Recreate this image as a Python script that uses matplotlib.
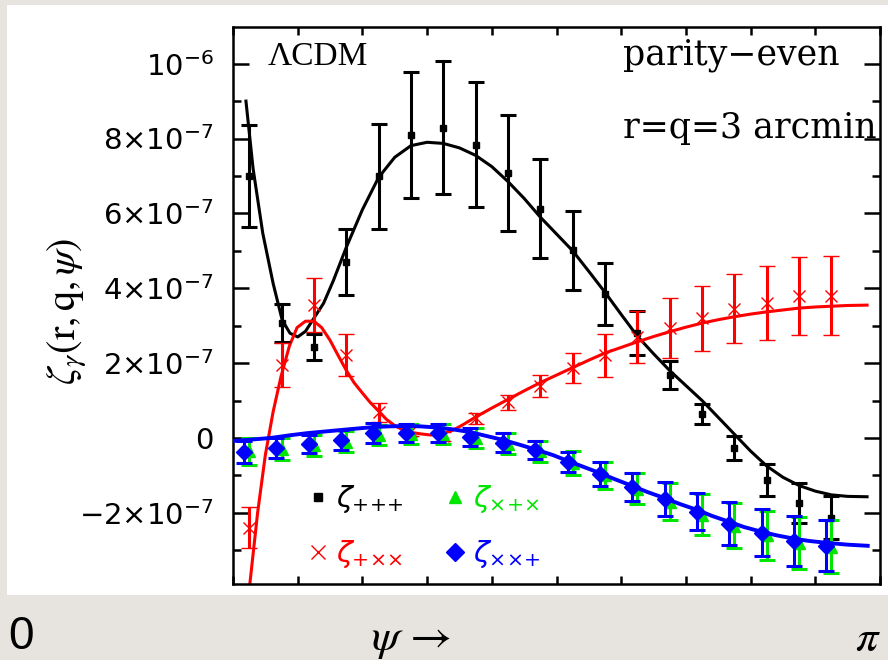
import matplotlib
matplotlib.use("Agg")
import matplotlib.pyplot as plt
from matplotlib.ticker import MultipleLocator
from matplotlib.lines import Line2D
from matplotlib.patches import Rectangle

# psi in units of pi, zeta in units of 1e-7
psi = [0.025, 0.075, 0.125, 0.175, 0.225, 0.275, 0.325, 0.375, 0.425, 0.475,
       0.525, 0.575, 0.625, 0.675, 0.725, 0.775, 0.825, 0.875, 0.925]

ppp_val = [7.0, 3.07, 2.43, 4.69, 6.99, 8.1, 8.29, 7.84, 7.09, 6.13,
           5.01, 3.84, 2.8, 1.68, 0.64, -0.27, -1.12, -1.73, -2.13]
ppp_err = [1.35, 0.5, 0.35, 0.88, 1.4, 1.68, 1.77, 1.68, 1.55, 1.33,
           1.05, 0.83, 0.58, 0.38, 0.27, 0.32, 0.43, 0.53, 0.58]

pxx_val = [-2.4, 1.95, 3.55, 2.21, 0.69, 0.2, 0.05, 0.53, 0.96, 1.38,
           1.87, 2.21, 2.7, 2.93, 3.2, 3.45, 3.6, 3.79, 3.8]
pxx_err = [0.55, 0.6, 0.72, 0.56, 0.25, 0.15, 0.12, 0.15, 0.2, 0.29,
           0.41, 0.58, 0.7, 0.8, 0.87, 0.92, 0.99, 1.04, 1.05]

xpx_val = [-0.36, -0.3, -0.2, -0.1, 0.08, 0.1, 0.1, 0.0, -0.15, -0.35,
           -0.68, -1.0, -1.35, -1.7, -2.05, -2.35, -2.6, -2.8, -2.9]
xpx_err = [0.36, 0.3, 0.27, 0.28, 0.28, 0.27, 0.27, 0.27, 0.27, 0.28,
           0.32, 0.37, 0.42, 0.5, 0.55, 0.6, 0.66, 0.7, 0.72]

xxp_psi = [0.017, 0.067, 0.117, 0.167, 0.217, 0.267, 0.317, 0.367, 0.417, 0.467,
           0.517, 0.567, 0.617, 0.667, 0.717, 0.767, 0.817, 0.867, 0.917]
xxp_val = [-0.37, -0.27, -0.16, -0.05, 0.13, 0.13, 0.13, 0.03, -0.13, -0.32,
           -0.64, -0.96, -1.31, -1.63, -1.97, -2.29, -2.53, -2.75, -2.88]
xxp_err = [0.3, 0.27, 0.25, 0.27, 0.27, 0.25, 0.25, 0.25, 0.25, 0.25,
           0.27, 0.32, 0.37, 0.45, 0.5, 0.57, 0.63, 0.67, 0.68]

# model curves
ppp_model_psi = [0.02, 0.031, 0.046, 0.062, 0.076, 0.088, 0.10, 0.112, 0.125, 0.14,
                 0.155, 0.175, 0.20, 0.225, 0.25, 0.275, 0.30, 0.325, 0.35, 0.375,
                 0.40, 0.425, 0.45, 0.475, 0.50, 0.525, 0.55, 0.575, 0.60, 0.625,
                 0.65, 0.675, 0.70, 0.725, 0.75, 0.775, 0.80, 0.825, 0.85, 0.875,
                 0.90, 0.925, 0.95, 0.98]
ppp_model = [9.0, 7.2, 5.47, 4.13, 3.15, 2.8, 2.7, 2.85, 3.2, 3.6,
             4.2, 5.09, 6.1, 6.96, 7.5, 7.81, 7.9, 7.87, 7.75, 7.55,
             7.25, 6.85, 6.4, 5.9, 5.45, 5.0, 4.45, 3.89, 3.3, 2.72,
             2.25, 1.8, 1.4, 1.0, 0.55, 0.1, -0.35, -0.75, -1.05, -1.27,
             -1.42, -1.52, -1.56, -1.57]

pxx_model_psi = [0.02, 0.026, 0.038, 0.05, 0.062, 0.074, 0.087, 0.099, 0.112, 0.125,
                 0.137, 0.15, 0.162, 0.175, 0.187, 0.20, 0.212, 0.225, 0.237, 0.25,
                 0.262, 0.275, 0.29, 0.305, 0.32, 0.34, 0.355, 0.375, 0.40, 0.425,
                 0.45, 0.475, 0.50, 0.525, 0.55, 0.575, 0.60, 0.625, 0.65, 0.675,
                 0.70, 0.725, 0.75, 0.775, 0.80, 0.825, 0.85, 0.875, 0.90, 0.925,
                 0.95, 0.98]
pxx_model = [-5.0, -3.9, -2.0, -0.45, 0.7, 1.63, 2.45, 2.95, 3.12, 3.12,
             2.95, 2.61, 2.22, 1.81, 1.48, 1.2, 0.95, 0.72, 0.5, 0.33,
             0.22, 0.15, 0.11, 0.08, 0.1, 0.21, 0.35, 0.56, 0.8, 1.03,
             1.26, 1.48, 1.68, 1.88, 2.08, 2.27, 2.42, 2.57, 2.71, 2.84,
             2.96, 3.07, 3.16, 3.24, 3.31, 3.37, 3.42, 3.47, 3.5, 3.52,
             3.54, 3.55]

xxp_model_psi = [0.0, 0.03, 0.058, 0.087, 0.115, 0.14, 0.165, 0.19, 0.216, 0.24,
                 0.269, 0.29, 0.315, 0.34, 0.366, 0.39, 0.417, 0.443, 0.47, 0.495,
                 0.517, 0.54, 0.566, 0.59, 0.617, 0.64, 0.666, 0.69, 0.717, 0.74,
                 0.767, 0.79, 0.818, 0.84, 0.867, 0.89, 0.917, 0.95, 0.981]
xxp_model = [-0.08, -0.04, 0.0, 0.07, 0.13, 0.17, 0.21, 0.25, 0.29, 0.31,
             0.32, 0.31, 0.28, 0.23, 0.16, 0.06, -0.05, -0.18, -0.32, -0.46,
             -0.61, -0.76, -0.93, -1.1, -1.28, -1.44, -1.6, -1.76, -1.92, -2.08,
             -2.24, -2.38, -2.51, -2.6, -2.69, -2.75, -2.8, -2.85, -2.88]

ytick_vals = [-2, 0, 2, 4, 6, 8, 10]
ytick_labels = [r"$-2{\times}10^{-7}$", r"$0$", r"$2{\times}10^{-7}$", r"$4{\times}10^{-7}$",
                r"$6{\times}10^{-7}$", r"$8{\times}10^{-7}$", r"$10^{-6}$"]

GREEN = "#00e600"

fig = plt.figure(figsize=(8.88, 6.6), dpi=100)
fig.patch.set_facecolor("#e7e4df")
fig.add_artist(Rectangle((0.008, 0.098), 0.992, 0.894, transform=fig.transFigure,
                         facecolor="white", edgecolor="none", zorder=0))

ax = fig.add_axes([0.2624, 0.1152, 0.7286, 0.8439])
ax.set_facecolor("white")

ax.plot(ppp_model_psi, ppp_model, color="black", lw=2.2, zorder=2)
ax.plot(pxx_model_psi, pxx_model, color="red", lw=2.2, zorder=2)
ax.plot(xxp_model_psi, xxp_model, color="blue", lw=2.8, zorder=5)

eb = dict(elinewidth=2.2, capsize=6, capthick=2.2, ls="none")
ax.errorbar(psi, ppp_val, yerr=ppp_err, color="black", marker="s", ms=5, zorder=3, **eb)
ax.errorbar(psi, pxx_val, yerr=pxx_err, color="red", marker="x", ms=9, mew=1.0, zorder=3, **eb)
ax.errorbar(psi, xpx_val, yerr=xpx_err, color=GREEN, marker="^", ms=8, zorder=4, **eb)
ax.errorbar(xxp_psi, xxp_val, yerr=xxp_err, color="blue", marker="D", ms=8.5, zorder=6, **eb)

ax.set_xlim(0, 1)
ax.set_ylim(-3.9, 10.98)
ax.xaxis.set_major_locator(MultipleLocator(0.1))
ax.set_yticks(ytick_vals)
ax.set_yticklabels(ytick_labels)
ax.yaxis.set_minor_locator(MultipleLocator(1))
ax.tick_params(axis="x", which="both", direction="in", top=True, bottom=True,
               labelbottom=False, length=6, width=1.8)
ax.tick_params(axis="y", which="major", direction="in", left=True, right=True,
               length=11.5, width=1.8, labelsize=21, pad=14)
ax.tick_params(axis="y", which="minor", direction="in", left=True, right=True,
               length=5.8, width=1.8)
for s in ax.spines.values():
    s.set_linewidth(1.8)

ax.set_ylabel(r"$\zeta_\gamma(\mathrm{r,q,}\psi)$", fontsize=29, math_fontfamily="stix")
ax.yaxis.set_label_coords(-0.222, 0.49)

ax.text(0.053, 0.932, "ΛCDM", transform=ax.transAxes, fontsize=24,
        family="Liberation Serif", va="baseline", ha="left")
ax.text(0.603, 0.932, "parity\u2212even", transform=ax.transAxes, fontsize=25,
        family="DejaVu Serif", va="baseline", ha="left")
ax.text(0.603, 0.801, "r=q=3 arcmin", transform=ax.transAxes, fontsize=25,
        family="DejaVu Serif", va="baseline", ha="left")

handles = [
    Line2D([], [], ls="none", marker="s", ms=6, color="black"),
    Line2D([], [], ls="none", marker="x", ms=10, mew=1.0, color="red"),
    Line2D([], [], ls="none", marker="^", ms=9, color=GREEN),
    Line2D([], [], ls="none", marker="D", ms=9, color="blue"),
]
labels = [r"$\zeta_{{+}{+}{+}}$", r"$\zeta_{{+}{\times}{\times}}$",
          r"$\zeta_{{\times}{+}{\times}}$", r"$\zeta_{{\times}{\times}{+}}$"]
ax.legend(handles, labels, ncol=2, loc="lower left", bbox_to_anchor=(0.118, 0.025),
          frameon=False, fontsize=21, handlelength=0.6, handletextpad=0.3,
          columnspacing=1.5, labelspacing=0.8, borderpad=0, borderaxespad=0,
          labelcolor=["black", "red", GREEN, "blue"])

fig.text(8 / 888, 11 / 660, "0", fontsize=33, family="Liberation Sans", va="baseline", ha="left")
fig.text(371 / 888, 10 / 660, r"$\psi\,\rightarrow$", fontsize=33, math_fontfamily="stix",
         va="baseline", ha="left")
fig.text(855 / 888, 9 / 660, r"$\pi$", fontsize=32, math_fontfamily="stix",
         va="baseline", ha="left")

fig.savefig("out.png", dpi=100, facecolor=fig.get_facecolor())
